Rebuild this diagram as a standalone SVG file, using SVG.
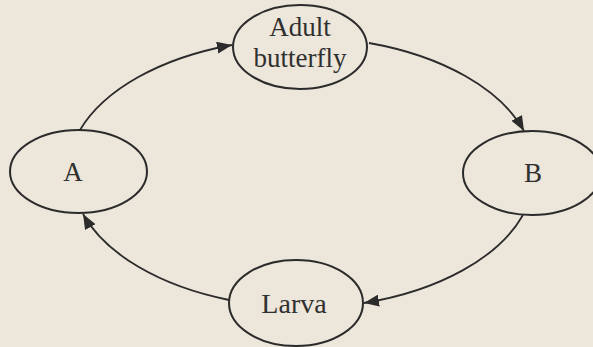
<svg xmlns="http://www.w3.org/2000/svg" width="593" height="347" viewBox="0 0 593 347">
<style>
.node ellipse{fill:none;stroke:#2b2b2b;stroke-width:2}
.node text{font-family:"Liberation Serif","Times New Roman",serif;font-size:27px;fill:#303030;text-anchor:middle}
.conn path{fill:none;stroke:#2b2b2b;stroke-width:1.8;marker-end:url(#ah)}
</style>
<defs>
<marker id="ah" markerUnits="userSpaceOnUse" markerWidth="16" markerHeight="12" refX="15" refY="6" orient="auto">
<path d="M0,0 L15,6 L0,12 z" fill="#2b2b2b"/>
</marker>
</defs>
<rect width="593" height="347" fill="#ede6da"/>
<g class="conn">
<path d="M 80 130 A 235 135 0 0 1 232 45"/>
<path d="M 369 43 A 235 135 0 0 1 524 131"/>
<path d="M 523 215 A 235 135 0 0 1 364 303"/>
<path d="M 229 300 A 235 135 0 0 1 83 214"/>
</g>
<g id="adult" class="node">
<ellipse cx="300" cy="47" rx="67" ry="42"/>
<text x="300" y="36">Adult</text>
<text x="300" y="67">butterfly</text>
</g>
<g id="b" class="node">
<ellipse cx="532" cy="173" rx="69" ry="42"/>
<text x="533" y="182">B</text>
</g>
<g id="larva" class="node">
<ellipse cx="296" cy="303" rx="67" ry="43"/>
<text x="294" y="313" style="font-size:28px">Larva</text>
</g>
<g id="a" class="node">
<ellipse cx="78.5" cy="171.5" rx="68.5" ry="41.5"/>
<text x="73" y="181">A</text>
</g>
</svg>
